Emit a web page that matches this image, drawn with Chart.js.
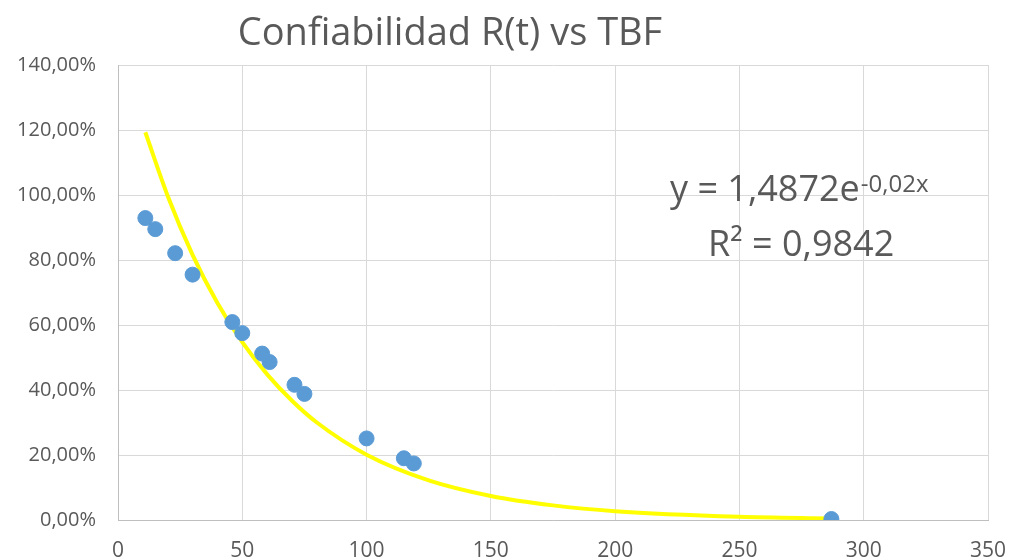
<!DOCTYPE html>
<html>
<head>
<meta charset="utf-8">
<script src="https://cdn.jsdelivr.net/npm/chart.js@4/dist/chart.umd.min.js"></script>
<style>
  body { margin: 0; background: #fff; }
  #wrap { width: 1013px; height: 560px; }
</style>
</head>
<body>
<div id="wrap"><canvas id="relChart" width="1013" height="560"></canvas></div>
<script>
// TBF (x) and reliability R(t) in % (y)
let tbf = [11, 15, 23, 30, 46, 50, 58, 61, 71, 75, 100, 115, 119, 287];
let reliability = [92.9, 89.5, 82.1, 75.5, 60.9, 57.5, 51.2, 48.6, 41.6, 38.8, 25.1, 19.0, 17.4, 0.3];

// exponential trend line as seen on the chart
let trendX = [11, 20, 30, 40, 50, 60, 70, 80, 100, 125, 150, 175, 200, 250, 287];
let trendY = [119.3, 99.7, 81.6, 66.8, 54.7, 44.8, 36.7, 30.0, 20.1, 12.2, 7.4, 4.5, 2.7, 1.0, 0.5];

let xTicks = [0, 50, 100, 150, 200, 250, 300, 350];
let chartTitle = "Confiabilidad R(t) vs TBF";
let eqMain = "y = 1,4872e";
let eqExp = "-0,02x";
let eqR2 = "R² = 0,9842";

const FONT = "'Open Sans', 'Noto Sans', sans-serif";
const GREY = '#595959';

const textPlugin = {
    id: 'textPlugin',
    afterDraw(chart) {
        const ctx = chart.ctx;
        ctx.save();
        ctx.fillStyle = GREY;
        ctx.textBaseline = 'alphabetic';
        // title
        ctx.font = "38px " + FONT;
        ctx.textAlign = 'center';
        ctx.fillText(chartTitle, 450, 45);
        // trend equation
        ctx.textAlign = 'left';
        ctx.font = "36px " + FONT;
        ctx.fillText(eqMain, 670, 201);
        let w = ctx.measureText(eqMain).width;
        ctx.font = "24px " + FONT;
        ctx.fillText(eqExp, 670 + w + 1, 192);
        ctx.font = "36px " + FONT;
        ctx.fillText(eqR2, 708, 256);
        ctx.restore();
    }
};

const points = tbf.map((x, i) => ({ x: x, y: reliability[i] }));
const trend = trendX.map((x, i) => ({ x: x, y: trendY[i] }));

var ctx = document.getElementById("relChart").getContext('2d');
var relChart = new Chart(ctx, {
    type: 'scatter',
    data: {
        datasets: [{
            label: "R(t)",
            data: points,
            backgroundColor: '#5b9bd5',
            borderColor: '#5b9bd5',
            pointRadius: 7.5,
            pointHoverRadius: 7.5,
            order: 1
        },
        {
            label: "Exponencial",
            data: trend,
            showLine: true,
            borderColor: '#ffff00',
            borderWidth: 4,
            pointRadius: 0,
            cubicInterpolationMode: 'monotone',
            fill: false,
            order: 2
        }]
    },
    options: {
        responsive: false,
        animation: false,
        layout: { padding: { top: 65, right: 25, left: 0, bottom: 0 } },
        plugins: {
            legend: { display: false },
            title: { display: false },
            tooltip: { enabled: false }
        },
        scales: {
            x: {
                type: 'linear',
                min: 0,
                max: 350,
                afterBuildTicks: (axis) => { axis.ticks = xTicks.map(v => ({ value: v })); },
                afterFit: (axis) => {
                    axis.height = 40;
                    axis.paddingLeft = 0;
                    axis.paddingRight = 0;
                },
                grid: { color: '#d9d9d9', lineWidth: 1, drawTicks: false },
                border: { color: '#bfbfbf', width: 1 },
                ticks: { color: GREY, font: { family: FONT, size: 21 }, padding: 18 }
            },
            y: {
                min: 0,
                max: 140,
                afterFit: (axis) => {
                    axis.width = 118;
                    axis.paddingTop = 0;
                    axis.paddingBottom = 0;
                },
                grid: { color: '#d9d9d9', lineWidth: 1, drawTicks: false },
                border: { color: '#bfbfbf', width: 1 },
                ticks: {
                    stepSize: 20,
                    color: GREY,
                    font: { family: FONT, size: 20 },
                    padding: 22,
                    callback: (v) => v.toFixed(2).replace('.', ',') + '%'
                }
            }
        }
    },
    plugins: [textPlugin]
});
</script>
</body>
</html>
